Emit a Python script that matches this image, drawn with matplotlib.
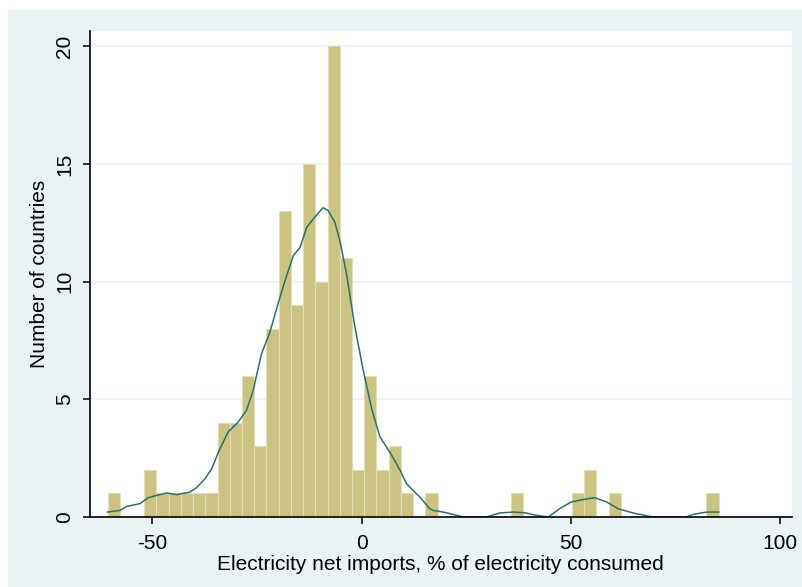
import matplotlib
matplotlib.use('Agg')
import matplotlib.pyplot as plt
from matplotlib.patches import Rectangle

plt.rcParams['font.family'] = ['Liberation Sans', 'DejaVu Sans']
plt.rcParams['axes.unicode_minus'] = False

# histogram: 50 equal-width bins of net imports (% of consumption)
bin_start = -60.7
bin_width = 2.92
counts = [1, 0, 0, 2, 1, 1, 1, 1, 1, 4,
          4, 6, 3, 8, 13, 9, 15, 10, 20, 11,
          2, 6, 2, 3, 1, 0, 1, 0, 0, 0,
          0, 0, 0, 1, 0, 0, 0, 0, 1, 2,
          0, 1, 0, 0, 0, 0, 0, 0, 0, 1]

# kernel density overlay, scaled to counts
kde_x = [-60.7, -57.7, -56.1, -52.9, -51.0, -48.9, -46.6, -44.2, -41.0, -39.4,
         -37.4, -35.8, -34.2, -31.9, -29.5, -27.5, -25.9, -23.9, -21.9, -19.5,
         -17.9, -16.3, -14.7, -13.1, -11.2, -9.2, -8.0, -6.4, -5.2, -3.6,
         -1.6, 0.4, 2.4, 4.4, 7.2, 9.3, 10.7, 12.3, 13.9, 16.3,
         17.1, 19.5, 21.1, 24.3, 29.8, 33.0, 36.2, 39.0, 41.8, 44.6,
         47.3, 50.1, 52.9, 55.7, 58.5, 61.3, 64.9, 69.6, 77.6, 79.2,
         82.4, 85.3]
kde_y = [0.21, 0.28, 0.45, 0.57, 0.82, 0.92, 1.02, 0.95, 1.06, 1.25,
         1.63, 2.05, 2.76, 3.61, 4.03, 4.53, 5.38, 6.94, 7.86, 9.34,
         10.26, 11.11, 11.46, 12.31, 12.74, 13.14, 13.02, 12.53, 11.75, 10.33,
         8.07, 6.23, 4.60, 3.40, 2.62, 1.95, 1.42, 1.13, 0.85, 0.35,
         0.28, 0.21, 0.14, 0.0, 0.0, 0.17, 0.21, 0.18, 0.07, 0.0,
         0.35, 0.64, 0.74, 0.82, 0.64, 0.35, 0.17, 0.0, 0.0, 0.11,
         0.21, 0.21]

x_ticks = [-50, 0, 50, 100]
y_ticks = [0, 5, 10, 15, 20]

bg = '#eaf2f3'
bar_color = '#cbc382'
line_color = '#2a716c'

fig = plt.figure(figsize=(8.02, 5.87), dpi=100)
fig.patch.set_facecolor('white')
fig.patches.append(Rectangle((8 / 802, 0), 1 - 8 / 802, (587 - 10) / 587,
                             transform=fig.transFigure, facecolor=bg,
                             edgecolor='none', zorder=-10))

ax = fig.add_axes([89.5 / 802, 70 / 587, (791.5 - 89.5) / 802, (517 - 31) / 587])
ax.set_facecolor('white')

lefts = [bin_start + i * bin_width for i in range(len(counts))]
ax.bar(lefts, counts, width=bin_width, align='edge', color=bar_color,
       edgecolor='#e2ddb4', linewidth=0.8, zorder=2)
ax.plot(kde_x, kde_y, color=line_color, linewidth=1.1, zorder=3)

ax.set_xlim(-65, 102.7)
ax.set_ylim(0, 20.65)
ax.set_xticks(x_ticks)
ax.set_yticks(y_ticks)
ax.yaxis.grid(True, color=bg, linewidth=1.2, zorder=1)
ax.set_axisbelow(True)

for side in ['top', 'right']:
    ax.spines[side].set_visible(False)
for side in ['left', 'bottom']:
    ax.spines[side].set_color('black')
    ax.spines[side].set_linewidth(1.2)
    ax.spines[side].set_zorder(4)

ax.tick_params(axis='both', direction='out', length=5, width=1.1,
               labelsize=15, colors='black')
ax.tick_params(axis='x', pad=7)
ax.tick_params(axis='y', pad=6)
for lbl in ax.get_yticklabels():
    lbl.set_rotation(90)
    lbl.set_va('center')

ax.set_xlabel('Electricity net imports, % of electricity consumed', fontsize=15)
ax.set_ylabel('Number of countries', fontsize=15)
ax.xaxis.set_label_coords(0.5, -0.078)
ax.yaxis.set_label_coords(-0.058, 0.5)

fig.savefig('out.png', dpi=100, facecolor=fig.get_facecolor())
